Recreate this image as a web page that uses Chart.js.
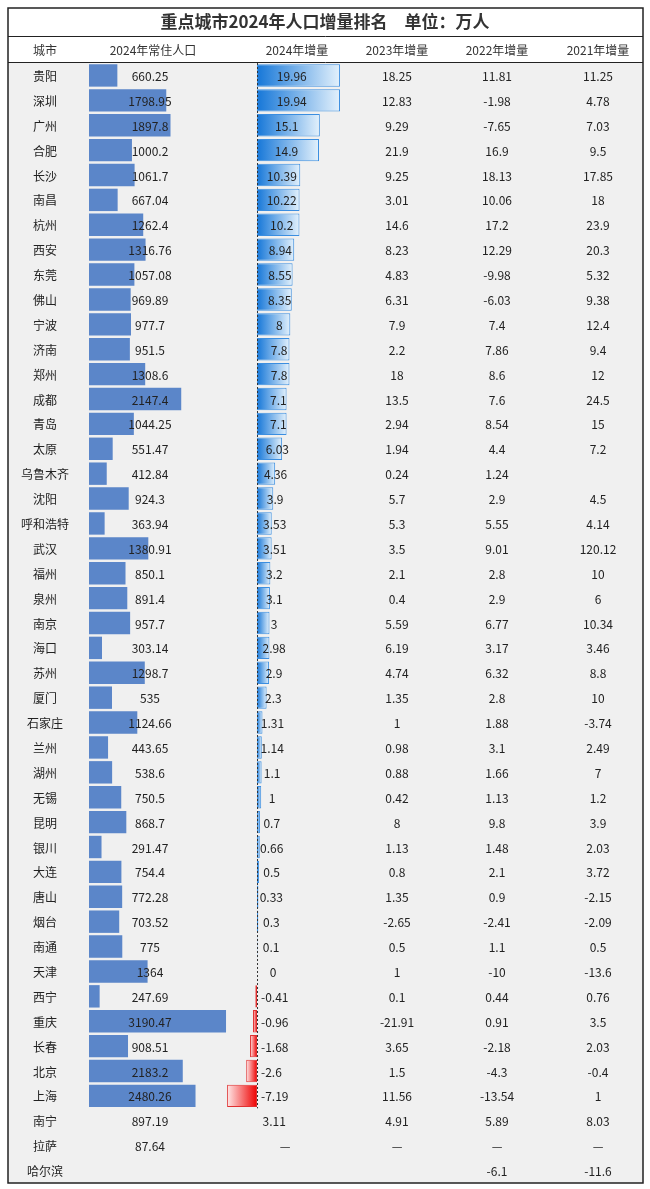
<!DOCTYPE html>
<html><head><meta charset="utf-8">
<script src="https://cdn.jsdelivr.net/npm/chart.js@4"></script>
<style>html,body{margin:0;padding:0;background:#fff}#wrap{width:650px;height:1189px}</style>
</head><body><div id="wrap"><canvas id="c"></canvas></div>
<script>
const title = '重点城市2024年人口增量排名　单位：万人';
const headers = ['城市','2024年常住人口','2024年增量','2023年增量','2022年增量','2021年增量'];
const cities = ['贵阳','深圳','广州','合肥','长沙','南昌','杭州','西安','东莞','佛山','宁波','济南','郑州','成都','青岛','太原','乌鲁木齐','沈阳','呼和浩特','武汉','福州','泉州','南京','海口','苏州','厦门','石家庄','兰州','湖州','无锡','昆明','银川','大连','唐山','烟台','南通','天津','西宁','重庆','长春','北京','上海','南宁','拉萨','哈尔滨'];
const pop2024 = [660.25,1798.95,1897.8,1000.2,1061.7,667.04,1262.4,1316.76,1057.08,969.89,977.7,951.5,1308.6,2147.4,1044.25,551.47,412.84,924.3,363.94,1380.91,850.1,891.4,957.7,303.14,1298.7,535,1124.66,443.65,538.6,750.5,868.7,291.47,754.4,772.28,703.52,775,1364,247.69,3190.47,908.51,2183.2,2480.26,897.19,87.64,null];
const inc2024 = [19.96,19.94,15.1,14.9,10.39,10.22,10.2,8.94,8.55,8.35,8,7.8,7.8,7.1,7.1,6.03,4.36,3.9,3.53,3.51,3.2,3.1,3,2.98,2.9,2.3,1.31,1.14,1.1,1,0.7,0.66,0.5,0.33,0.3,0.1,0,-0.41,-0.96,-1.68,-2.6,-7.19,3.11,'—',null];
const inc2023 = [18.25,12.83,9.29,21.9,9.25,3.01,14.6,8.23,4.83,6.31,7.9,2.2,18,13.5,2.94,1.94,0.24,5.7,5.3,3.5,2.1,0.4,5.59,6.19,4.74,1.35,1,0.98,0.88,0.42,8,1.13,0.8,1.35,-2.65,0.5,1,0.1,-21.91,3.65,1.5,11.56,4.91,'—',null];
const inc2022 = [11.81,-1.98,-7.65,16.9,18.13,10.06,17.2,12.29,-9.98,-6.03,7.4,7.86,8.6,7.6,8.54,4.4,1.24,2.9,5.55,9.01,2.8,2.9,6.77,3.17,6.32,2.8,1.88,3.1,1.66,1.13,9.8,1.48,2.1,0.9,-2.41,1.1,-10,0.44,0.91,-2.18,-4.3,-13.54,5.89,'—',-6.1];
const inc2021 = [11.25,4.78,7.03,9.5,17.85,18,23.9,20.3,5.32,9.38,12.4,9.4,12,24.5,15,7.2,null,4.5,4.14,120.12,10,6,10.34,3.46,8.8,10,-3.74,2.49,7,1.2,3.9,2.03,3.72,-2.15,-2.09,0.5,-13.6,0.76,3.5,2.03,-0.4,1,8.03,'—',-11.6];
const barRows = 42; // rows drawn with bars (through 上海)

const popBars = pop2024.map((v,i)=> i<barRows ? v : null);
const incBars = inc2024.map((v,i)=> i<barRows ? v : null);
const fmt = v => v===null||v===undefined ? '' : String(v);
const CJK = '"Noto Sans CJK SC","Noto Sans",sans-serif';

const tablePlugin = {
  id:'table',
  beforeDraw(chart){
    const {ctx, chartArea:a} = chart;
    ctx.save();
    ctx.fillStyle='#fff'; ctx.fillRect(0,0,650,1189);
    ctx.fillStyle='#f0f0f0'; ctx.fillRect(a.left,a.top,a.right-a.left,a.bottom-a.top);
    ctx.restore();
  },
  afterDatasetsDraw(chart){
    const {ctx, chartArea:a, scales} = chart;
    const y = scales.y, xi = scales.xInc;
    ctx.save();
    // dotted zero line
    const z = xi.getPixelForValue(0);
    const h = (a.bottom-a.top)/cities.length;
    ctx.strokeStyle='#333'; ctx.lineWidth=1; ctx.setLineDash([2,2]);
    ctx.beginPath(); ctx.moveTo(z+0.5,a.top); ctx.lineTo(z+0.5,a.top+h*barRows); ctx.stroke();
    ctx.setLineDash([]);
    // borders
    ctx.strokeStyle='#222'; ctx.lineWidth=1.5;
    ctx.strokeRect(8,8,635,1175);
    ctx.lineWidth=1;
    ctx.beginPath(); ctx.moveTo(8,36.5); ctx.lineTo(643,36.5); ctx.moveTo(8,62.5); ctx.lineTo(643,62.5); ctx.stroke();
    // title
    ctx.fillStyle='#333'; ctx.textAlign='center'; ctx.textBaseline='middle';
    ctx.font='bold 17px '+CJK;
    ctx.fillText(title,325,22);
    ctx.font='12px '+CJK;
    const cx=[45,153,297,397,497,598];
    headers.forEach((t,i)=>ctx.fillText(t,cx[i],50));
    // rows
    ctx.fillStyle='#222';
    cities.forEach((c,i)=>{
      const py = y.getPixelForValue(i)+1;
      ctx.textAlign='center';
      ctx.fillText(c,cx[0],py);
      ctx.fillText(fmt(pop2024[i]),150,py);
      const v = inc2024[i];
      if (typeof v==='number'){
        const w = Math.abs(xi.getPixelForValue(v)-z);
        const px = v>0 ? z+14+w*0.25 : z+16;
        ctx.textAlign = v<0 ? 'left':'center';
        ctx.fillText(String(v), v<0 ? z+4 : px, py);
      } else if (v==='—'){ ctx.textAlign='center'; ctx.fillText(v,cx[2]-12,py); }
      ctx.textAlign='center';
      ctx.fillText(fmt(inc2023[i]),cx[3],py);
      ctx.fillText(fmt(inc2022[i]),cx[4],py);
      ctx.fillText(fmt(inc2021[i]),cx[5],py);
    });
    ctx.restore();
  }
};

function incColor(ctx){
  const chart = ctx.chart, v = ctx.raw;
  if (!chart.chartArea || v===null) return '#3d8fe0';
  const xi = chart.scales.xInc;
  const z = xi.getPixelForValue(0), e = xi.getPixelForValue(v);
  const g = chart.ctx.createLinearGradient(Math.min(z,e),0,Math.max(z,e)+0.01,0);
  if (v>=0){ g.addColorStop(0,'#1677d8'); g.addColorStop(1,'#e3f1fc'); }
  else { g.addColorStop(0,'#ffe8e8'); g.addColorStop(1,'#ee0000'); }
  return g;
}

new Chart(document.getElementById('c'),{
  type:'bar',
  data:{labels:cities,datasets:[
    {data:popBars,xAxisID:'xPop',backgroundColor:'#5b86c9',borderWidth:0,grouped:false,barPercentage:0.9,categoryPercentage:1},
    {data:incBars,xAxisID:'xInc',backgroundColor:incColor,borderColor:ctx=>ctx.raw<0?'#e03030':'#3b8ee0',borderWidth:1,borderSkipped:false,grouped:false,barPercentage:0.9,categoryPercentage:1}
  ]},
  options:{
    indexAxis:'y',responsive:true,maintainAspectRatio:false,animation:false,
    layout:{padding:{top:63,bottom:6,left:8,right:7}},
    plugins:{legend:{display:false},tooltip:{enabled:false}},
    scales:{
      y:{display:false,offset:true},
      xPop:{display:false,min:-1886,max:12899},
      xInc:{display:false,min:-59.86,max:92.78}
    }
  },
  plugins:[tablePlugin]
});
</script></body></html>
